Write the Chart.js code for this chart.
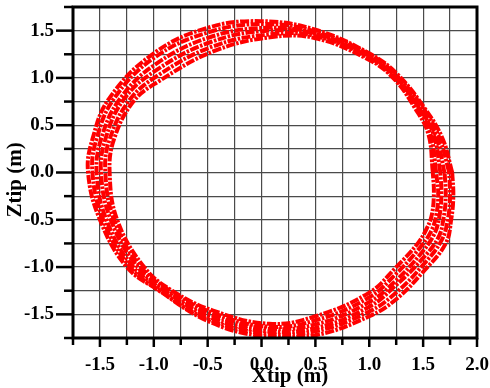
<!DOCTYPE html>
<html>
<head>
<meta charset="utf-8">
<script src="https://cdn.jsdelivr.net/npm/chart.js@4.4.1/dist/chart.umd.min.js"></script>
<style>
  html, body { margin: 0; padding: 0; background: #fff; }
</style>
</head>
<body>
<canvas id="orbit" width="490" height="388"></canvas>
<script>
/* ---------- DATA ---------- */
const xTickLabels = ["-1.5", "-1.0", "-0.5", "0.0", "0.5", "1.0", "1.5", "2.0"];
const yTickLabels = ["-1.5", "-1.0", "-0.5", "0.0", "0.5", "1.0", "1.5"];

// each loop of the tip path, [Xtip, Ztip] in metres, counter-clockwise
const loop1 = [[1.77,0.00],[1.68,0.36],[1.52,0.67],[1.26,1.04],[1.00,1.26],[0.50,1.51],[0.00,1.60],[-0.50,1.53],[-1.00,1.26],[-1.41,0.79],[-1.57,0.35],[-1.61,0.00],[-1.50,-0.50],[-1.25,-1.00],[-0.95,-1.25],[-0.50,-1.57],[0.00,-1.73],[0.50,-1.72],[1.00,-1.52],[1.25,-1.34],[1.50,-1.05],[1.71,-0.75],[1.76,-0.50],[1.78,-0.25]];
const loop2 = [[1.74,0.01],[1.65,0.37],[1.50,0.68],[1.25,1.03],[1.00,1.25],[0.50,1.49],[0.02,1.57],[-0.50,1.48],[-1.00,1.21],[-1.37,0.78],[-1.53,0.36],[-1.57,0.01],[-1.47,-0.50],[-1.22,-1.00],[-0.93,-1.26],[-0.50,-1.55],[0.02,-1.70],[0.50,-1.68],[1.00,-1.47],[1.25,-1.27],[1.49,-0.99],[1.67,-0.72],[1.73,-0.49],[1.75,-0.24]];
const loop3 = [[1.70,-0.01],[1.62,0.38],[1.48,0.66],[1.24,1.02],[0.99,1.24],[0.50,1.47],[0.04,1.53],[-0.48,1.43],[-0.99,1.14],[-1.32,0.77],[-1.49,0.35],[-1.53,-0.01],[-1.44,-0.50],[-1.19,-1.00],[-0.90,-1.25],[-0.48,-1.53],[0.04,-1.68],[0.52,-1.64],[1.00,-1.42],[1.24,-1.20],[1.48,-0.93],[1.64,-0.69],[1.69,-0.48],[1.71,-0.24]];
const loop4 = [[1.66,0.00],[1.60,0.39],[1.47,0.67],[1.24,1.01],[1.00,1.22],[0.51,1.46],[0.06,1.50],[-0.47,1.38],[-0.98,1.08],[-1.28,0.77],[-1.45,0.35],[-1.49,0.00],[-1.40,-0.50],[-1.15,-1.00],[-0.88,-1.25],[-0.47,-1.50],[0.05,-1.65],[0.52,-1.60],[1.00,-1.37],[1.25,-1.14],[1.47,-0.87],[1.60,-0.66],[1.65,-0.47],[1.67,-0.23]];
const loop5 = [[1.62,0.01],[1.57,0.40],[1.45,0.67],[1.23,1.00],[1.00,1.21],[0.51,1.44],[0.07,1.46],[-0.46,1.33],[-0.97,1.02],[-1.23,0.76],[-1.41,0.35],[-1.45,0.01],[-1.37,-0.50],[-1.12,-1.00],[-0.85,-1.25],[-0.46,-1.48],[0.06,-1.63],[0.51,-1.56],[1.00,-1.32],[1.25,-1.07],[1.46,-0.81],[1.57,-0.63],[1.62,-0.46],[1.64,-0.23]];
const loop6 = [[1.59,0.00],[1.55,0.40],[1.43,0.67],[1.23,0.99],[1.00,1.19],[0.50,1.42],[0.08,1.43],[-0.45,1.28],[-0.96,0.96],[-1.19,0.75],[-1.37,0.35],[-1.41,0.00],[-1.34,-0.50],[-1.09,-1.00],[-0.83,-1.25],[-0.45,-1.46],[0.07,-1.60],[0.50,-1.52],[1.00,-1.27],[1.25,-1.00],[1.45,-0.75],[1.53,-0.60],[1.58,-0.45],[1.60,-0.22]];
const loops = [loop1, loop2, loop3, loop4, loop5, loop6];

/* ---------- STYLE ---------- */
const red = "#ff0000";
const gridGrey = "#4a4a4a";
const serif = "'Liberation Serif', 'Times New Roman', serif";

const tickLabel = (labels) => (v) => {
  const s = Number(v).toFixed(1);
  return labels.includes(s) && Math.abs(v * 2 - Math.round(v * 2)) < 1e-6 ? s : "";
};

const noPad = (s) => {
  s.paddingTop = 0;
  s.paddingBottom = 0;
  s.paddingLeft = 0;
  s.paddingRight = 0;
};

// frame, tick marks and axis titles
const framePlugin = {
  id: "frame",
  afterDraw(chart) {
    const { ctx, chartArea: a, scales } = chart;
    ctx.save();
    ctx.strokeStyle = "#000";
    ctx.lineWidth = 2.5;
    scales.x.ticks.forEach((t) => {
      const px = scales.x.getPixelForValue(t.value);
      const len = t.label ? 9 : 7;
      ctx.beginPath();
      ctx.moveTo(px, a.bottom);
      ctx.lineTo(px, a.bottom + len);
      ctx.stroke();
    });
    scales.y.ticks.forEach((t) => {
      const py = scales.y.getPixelForValue(t.value);
      const len = t.label ? 17 : 9;
      ctx.beginPath();
      ctx.moveTo(a.left, py);
      ctx.lineTo(a.left - len, py);
      ctx.stroke();
    });
    ctx.lineWidth = 3;
    ctx.strokeRect(a.left, a.top, a.right - a.left, a.bottom - a.top);

    ctx.fillStyle = "#000";
    ctx.font = "bold 21px " + serif;
    ctx.textAlign = "center";
    ctx.textBaseline = "middle";
    ctx.fillText("Xtip (m)", 290, 377);
    ctx.translate(16, 180);
    ctx.rotate(-Math.PI / 2);
    ctx.fillText("Ztip (m)", 0, 0);
    ctx.restore();
  },
};

const axisFont = { family: serif, weight: "bold", size: 19 };

new Chart(document.getElementById("orbit"), {
  type: "scatter",
  data: {
    datasets: loops.map((loop) => {
      const pts = loop.map(([x, y]) => ({ x, y }));
      pts.push(pts[0]);
      return {
        data: pts,
        showLine: true,
        borderColor: red,
        borderWidth: 4,
        borderDash: [9, 1.5, 2.5, 1.5],
        pointRadius: 0,
        tension: 0.4,
      };
    }),
  },
  options: {
    responsive: false,
    animation: false,
    layout: { padding: { top: 7, right: 13, left: 0, bottom: 0 } },
    plugins: { legend: { display: false }, tooltip: { enabled: false } },
    scales: {
      x: {
        type: "linear",
        min: -1.75,
        max: 2.0,
        border: { display: false },
        grid: { color: gridGrey, lineWidth: 1.2, drawTicks: false },
        ticks: {
          stepSize: 0.25,
          autoSkip: false,
          maxRotation: 0,
          padding: 16,
          color: "#000",
          font: axisFont,
          callback: tickLabel(xTickLabels),
        },
        afterFit: (s) => { s.height = 50; noPad(s); },
      },
      y: {
        type: "linear",
        min: -1.75,
        max: 1.75,
        border: { display: false },
        grid: { color: gridGrey, lineWidth: 1.2, drawTicks: false },
        ticks: {
          stepSize: 0.25,
          autoSkip: false,
          padding: 19,
          color: "#000",
          font: axisFont,
          callback: tickLabel(yTickLabels),
        },
        afterFit: (s) => { s.width = 73; noPad(s); },
      },
    },
  },
  plugins: [framePlugin],
});
</script>
</body>
</html>
